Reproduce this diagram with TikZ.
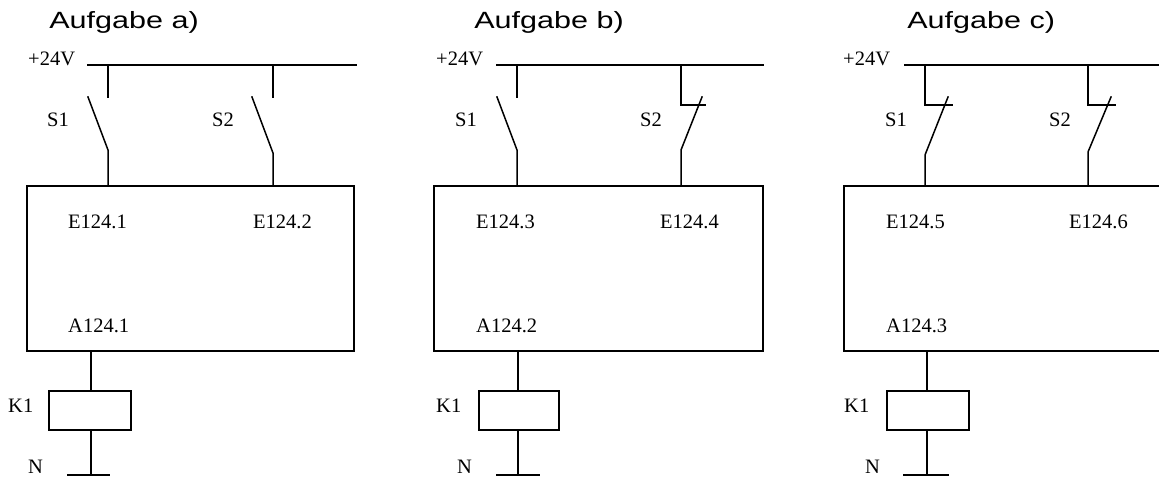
\documentclass[tikz,border=0pt]{standalone}
\usepackage{fontspec}
\setmainfont{Liberation Serif}
\newfontfamily\titlefont{Liberation Sans}
\begin{document}
\begin{tikzpicture}[x=1pt,y=-1pt,
  wire/.style={line width=1.5pt, line cap=rect},
  lbl/.style={anchor=base west, inner sep=0pt, font=\fontsize{20.5}{22}\selectfont},
  ttl/.style={anchor=base west, inner sep=0pt, font=\titlefont\fontsize{23.5}{26}\selectfont, xscale=1.3},
  plc/.style={draw, line width=1.5pt, inner sep=0pt},
  coil/.style={draw, line width=1.5pt, inner sep=0pt, minimum width=82pt, minimum height=39pt}]
\useasboundingbox (0,0) rectangle (1159,479);

% ---------- titles ----------
\node[ttl] (ta) at (49,28) {Aufgabe a)};
\node[ttl] (tb) at (474,28) {Aufgabe b)};
\node[ttl] (tc) at (907,28) {Aufgabe c)};

% ---------- supply labels ----------
\node[lbl] (va) at (28,65) {+24V};
\node[lbl] (vb) at (436,65) {+24V};
\node[lbl] (vc) at (843,65) {+24V};

% ---------- bus coordinates ----------
\coordinate (busAL) at (88,65);  \coordinate (busAR) at (356,65);
\coordinate (busBL) at (497,65); \coordinate (busBR) at (763,65);
\coordinate (busCL) at (904,65); \coordinate (busCR) at (1159,65);
\draw[wire] (busAL) -- (busAR);
\draw[wire] (busBL) -- (busBR);
\draw[wire, line cap=butt] (busCL) -- (busCR);

% ---------- PLC boxes ----------
\node[plc, minimum width=327pt, minimum height=165pt] (plcA) at (190.5,268.5) {};
\node[plc, minimum width=329pt, minimum height=165pt] (plcB) at (598.5,268.5) {};
\coordinate (plcCtr) at (1159,186);
\coordinate (plcCtl) at (844,186);
\coordinate (plcCbl) at (844,351);
\coordinate (plcCbr) at (1159,351);
\draw[line width=1.5pt] (plcCtr) -- (plcCtl) -- (plcCbl) -- (plcCbr);

% ---------- switches a) (both normally open) ----------
% S1
\coordinate (aS1t) at (108,65);  \coordinate (aS1c) at (108,97);
\coordinate (aS1f) at (88,97);   \coordinate (aS1p) at (108,150);
\coordinate (aS1b) at (108,186);
\draw[wire] (aS1t) -- (aS1c);
\draw[wire] (aS1f) -- (aS1p) -- (aS1b);
% S2
\coordinate (aS2t) at (273,65);  \coordinate (aS2c) at (273,97);
\coordinate (aS2f) at (252,97);  \coordinate (aS2p) at (273,153);
\coordinate (aS2b) at (273,186);
\draw[wire] (aS2t) -- (aS2c);
\draw[wire] (aS2f) -- (aS2p) -- (aS2b);

% ---------- switches b) ----------
% S1 normally open
\coordinate (bS1t) at (517,65);  \coordinate (bS1c) at (517,97);
\coordinate (bS1f) at (497,97);  \coordinate (bS1p) at (517,150);
\coordinate (bS1b) at (517,186);
\draw[wire] (bS1t) -- (bS1c);
\draw[wire] (bS1f) -- (bS1p) -- (bS1b);
% S2 normally closed
\coordinate (bS2t) at (681,65);  \coordinate (bS2k) at (681,105);
\coordinate (bS2h) at (705,105); \coordinate (bS2f) at (702,97);
\coordinate (bS2p) at (681,150); \coordinate (bS2b) at (681,186);
\draw[wire] (bS2t) -- (bS2k) -- (bS2h);
\draw[wire] (bS2f) -- (bS2p) -- (bS2b);

% ---------- switches c) (both normally closed) ----------
\coordinate (cS1t) at (925,65);  \coordinate (cS1k) at (925,105);
\coordinate (cS1h) at (952,105); \coordinate (cS1f) at (948,97);
\coordinate (cS1p) at (925,155); \coordinate (cS1b) at (925,186);
\draw[wire] (cS1t) -- (cS1k) -- (cS1h);
\draw[wire] (cS1f) -- (cS1p) -- (cS1b);
\coordinate (cS2t) at (1088,65); \coordinate (cS2k) at (1088,105);
\coordinate (cS2h) at (1115,105);\coordinate (cS2f) at (1111,97);
\coordinate (cS2p) at (1088,152);\coordinate (cS2b) at (1088,186);
\draw[wire] (cS2t) -- (cS2k) -- (cS2h);
\draw[wire] (cS2f) -- (cS2p) -- (cS2b);

% ---------- switch labels ----------
\node[lbl] (la1) at (47,126) {S1};
\node[lbl] (la2) at (212,126) {S2};
\node[lbl] (lb1) at (455,126) {S1};
\node[lbl] (lb2) at (640,126) {S2};
\node[lbl] (lc1) at (885,126) {S1};
\node[lbl] (lc2) at (1049,126) {S2};

% ---------- PLC I/O labels ----------
\node[lbl] (ea1) at (68,228) {E124.1};
\node[lbl] (ea2) at (253,228) {E124.2};
\node[lbl] (eb3) at (476,228) {E124.3};
\node[lbl] (eb4) at (660,228) {E124.4};
\node[lbl] (ec5) at (886,228) {E124.5};
\node[lbl] (ec6) at (1069,228) {E124.6};
\node[lbl] (oa) at (68,332) {A124.1};
\node[lbl] (ob) at (476,332) {A124.2};
\node[lbl] (oc) at (886,332) {A124.3};

% ---------- coils ----------
\node[coil] (kA) at (90,410.5) {};
\node[coil, minimum width=80pt] (kB) at (519,410.5) {};
\node[coil] (kC) at (928,410.5) {};

\coordinate (outA) at (91,351);  \coordinate (nA) at (91,475);
\coordinate (outB) at (518,351); \coordinate (nB) at (518,475);
\coordinate (outC) at (927,351); \coordinate (nC) at (927,475);
\draw[wire] (outA) -- (outA |- kA.north);
\draw[wire] (outA |- kA.south) -- (nA);
\draw[wire] (outB) -- (outB |- kB.north);
\draw[wire] (outB |- kB.south) -- (nB);
\draw[wire] (outC) -- (outC |- kC.north);
\draw[wire] (outC |- kC.south) -- (nC);

% ---------- N bars ----------
\coordinate (nAl) at (68,475);  \coordinate (nAr) at (109,475);
\coordinate (nBl) at (497,475); \coordinate (nBr) at (539,475);
\coordinate (nCl) at (904,475); \coordinate (nCr) at (948,475);
\draw[wire] (nAl) -- (nAr);
\draw[wire] (nBl) -- (nBr);
\draw[wire] (nCl) -- (nCr);

% ---------- coil and N labels ----------
\node[lbl] (ka) at (8,412) {K1};
\node[lbl] (kb) at (436,412) {K1};
\node[lbl] (kc) at (844,412) {K1};
\node[lbl] (na) at (28,473) {N};
\node[lbl] (nb) at (457,473) {N};
\node[lbl] (nc) at (865,473) {N};
\end{tikzpicture}
\end{document}
